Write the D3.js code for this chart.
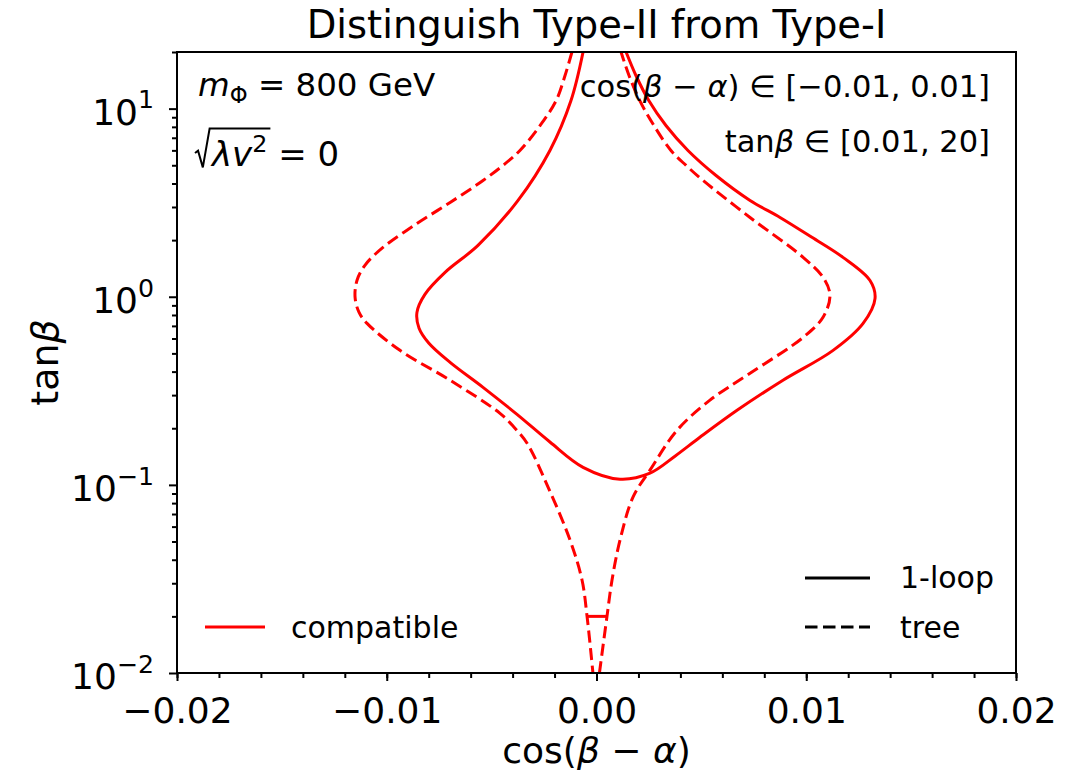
<!DOCTYPE html>
<html>
<head>
<meta charset="utf-8">
<script src="https://cdn.jsdelivr.net/npm/d3@7"></script>
<style>
body { margin: 0; background: #fff; }
text { font-family: "DejaVu Sans"; fill: #000; white-space: pre; }
</style>
</head>
<body>
<script>
// contours: x = cos(beta - alpha), y = tan(beta)
var oneLoopCos = [-0.00064, -0.00122, -0.00222, -0.00374, -0.00565, -0.00722, -0.00818, -0.00856, -0.00846, -0.00799,
                  -0.00698, -0.00541, -0.00379, -0.00222, -0.00064, 0.00112, 0.00255, 0.00374, 0.00493, 0.0067,
                  0.00889, 0.01128, 0.01271, 0.01328, 0.01304, 0.01175, 0.01027, 0.00875, 0.00732, 0.0057,
                  0.00436, 0.00331, 0.0025, 0.00188, 0.00141];
var oneLoopTan = [20, 11.0, 5.99, 3.25, 1.875, 1.348, 1.03, 0.826, 0.68, 0.566,
                  0.448, 0.330, 0.237, 0.169, 0.124, 0.1072, 0.1154, 0.142, 0.179, 0.249,
                  0.360, 0.519, 0.722, 0.981, 1.22, 1.62, 2.07, 2.64, 3.25, 4.41,
                  5.99, 8.13, 11.0, 15.0, 20];

var treeLeftCos = [-0.00117, -0.0015, -0.00193, -0.00269, -0.00365, -0.00446, -0.00541, -0.00698, -0.00856, -0.01018,
                   -0.01104, -0.01142, -0.01151, -0.01132, -0.01094, -0.00937, -0.00698, -0.0046, -0.00393, -0.00331,
                   -0.00231, -0.00126, -0.00069, -0.00045, -0.00017];
var treeLeftTan = [20, 15.0, 11.0, 8.13, 5.99, 4.99, 4.15, 3.17, 2.45, 1.83,
                   1.47, 1.22, 0.993, 0.826, 0.722, 0.519, 0.360, 0.240, 0.2025, 0.1665,
                   0.0973, 0.0508, 0.0312, 0.02, 0.01];

var treeRightCos = [0.00014, 0.0005, 0.00074, 0.00112, 0.00174, 0.00255, 0.00384, 0.00541, 0.00732, 0.00985,
                    0.0108, 0.01113, 0.0108, 0.00985, 0.00732, 0.00508, 0.00427, 0.00355, 0.00274, 0.00207,
                    0.00155, 0.00117];
var treeRightTan = [0.01, 0.02, 0.0312, 0.0508, 0.0861, 0.1197, 0.195, 0.282, 0.392, 0.608,
                    0.778, 1.02, 1.27, 1.62, 2.64, 4.15, 4.99, 5.99, 8.13, 11.0,
                    15.0, 20];

var treeBridgeCos = [-0.00045, 0.0005];
var treeBridgeTan = [0.02, 0.02];

var xTicks = [-0.02, -0.01, 0.0, 0.01, 0.02];
var yTicks = [0.01, 0.1, 1, 10];
var yTickExp = ["\u22122", "\u22121", "0", "1"];

var W = 1084, H = 773;
var mL = 177, mR = 1016, mT = 52, mB = 673;

var svg = d3.select("body").append("svg").attr("width", W).attr("height", H);

var x = d3.scaleLinear().domain([-0.02, 0.02]).range([mL, mR]);
var y = d3.scaleLog().domain([0.01, 20]).range([mB, mT]);

// rich text made of pieces laid out one after another
function rich(parent, px, py, pieces, size, anchor) {
    var g = parent.append("g");
    var cx = 0;
    pieces.forEach(function(p) {
        p.x0 = cx;
        if (p.w) { cx += p.w * size; p.x1 = cx; return; }
        var t = g.append("text")
            .attr("x", cx).attr("y", (p.dy || 0) * size)
            .style("font-size", (p.s || 1) * size + "px")
            .style("font-style", p.i ? "italic" : "normal")
            .text(p.t);
        cx += t.node().getComputedTextLength();
        p.x1 = cx;
    });
    var off = anchor === "end" ? -cx : (anchor === "middle" ? -cx / 2 : 0);
    g.attr("transform", "translate(" + (px + off) + "," + py + ")");
    g.property("w", cx);
    return g;
}

// title
svg.append("text").attr("x", (mL + mR) / 2).attr("y", 38)
    .attr("text-anchor", "middle").style("font-size", "38.5px")
    .text("Distinguish Type-II from Type-I");

// curves
svg.append("clipPath").attr("id", "clip").append("rect")
    .attr("x", mL).attr("y", mT).attr("width", mR - mL).attr("height", mB - mT);

var line = d3.line()
    .x(function(d) { return x(d[0]); })
    .y(function(d) { return y(d[1]); })
    .curve(d3.curveCatmullRom.alpha(0.5));

function pairs(a, b) { return a.map(function(v, i) { return [v, b[i]]; }); }

var curves = svg.append("g").attr("clip-path", "url(#clip)");
curves.append("path").datum(pairs(oneLoopCos, oneLoopTan)).attr("d", line)
    .attr("fill", "none").attr("stroke", "#ff0000").attr("stroke-width", 3);
[pairs(treeLeftCos, treeLeftTan), pairs(treeRightCos, treeRightTan)]
    .forEach(function(d) {
        curves.append("path").datum(d).attr("d", line)
            .attr("fill", "none").attr("stroke", "#ff0000").attr("stroke-width", 3)
            .attr("stroke-dasharray", "12,5.5");
    });
// the short flat piece of the tree contour is a single dash
curves.append("path").datum(pairs(treeBridgeCos, treeBridgeTan)).attr("d", line)
    .attr("fill", "none").attr("stroke", "#ff0000").attr("stroke-width", 3);

// axes
var xAxis = svg.append("g").attr("transform", "translate(0," + mB + ")")
    .call(d3.axisBottom(x).tickValues(xTicks).tickSize(8).tickPadding(8).tickFormat(d3.format(".2f")));
var xMinor = svg.append("g").attr("transform", "translate(0," + mB + ")")
    .call(d3.axisBottom(x).tickValues(d3.range(-0.02, 0.0201, 0.002)).tickSize(5).tickFormat(""));
var yAxis = svg.append("g").attr("transform", "translate(" + mL + ",0)")
    .call(d3.axisLeft(y).tickValues(yTicks).tickSize(8).tickFormat(""));
var yMinor = svg.append("g").attr("transform", "translate(" + mL + ",0)")
    .call(d3.axisLeft(y).tickValues(y.ticks().filter(function(v) {
        return yTicks.indexOf(v) < 0;
    })).tickSize(5).tickFormat(""));

[xAxis, xMinor, yAxis, yMinor].forEach(function(a) {
    a.select(".domain").remove();
    a.selectAll("line").attr("stroke", "#000").attr("stroke-width", 2);
});
xAxis.selectAll("text").style("font-size", "36px").attr("font-family", null).attr("dy", "0.95em");

yTicks.forEach(function(v, i) {
    rich(svg, 154, y(v) + 16, [{t: "10"}, {t: yTickExp[i], s: 0.7, dy: -0.45}], 36, "end");
});

// frame
svg.append("rect").attr("x", mL).attr("y", mT).attr("width", mR - mL).attr("height", mB - mT)
    .attr("fill", "none").attr("stroke", "#000").attr("stroke-width", 2);

// axis labels
rich(svg, (mL + mR) / 2, 763,
    [{t: "cos("}, {t: "\u03b2", i: 1}, {t: " \u2212 "}, {t: "\u03b1", i: 1}, {t: ")"}], 36, "middle");
var yl = rich(svg, 0, 0, [{t: "tan"}, {t: "\u03b2", i: 1}], 38, "start");
yl.attr("transform", "translate(58," + ((mT + mB) / 2 + yl.property("w") / 2) + ") rotate(-90)");

// annotations
rich(svg, 198, 96, [{t: "m", i: 1}, {t: "\u03a6", s: 0.7, dy: 0.2}, {t: " = 800 GeV"}], 32.5, "start");

var s = 34;
var sq = [{w: 0.5}, {t: "\u03bbv", i: 1}, {t: "2", s: 0.7, dy: -0.42}, {t: " = 0"}];
var sg = rich(svg, 195, 166, sq, s, "start");
sg.append("path")
    .attr("d", "M" + (0.0 * s) + "," + (-0.38 * s) + "L" + (0.09 * s) + "," + (-0.45 * s) +
        "L" + (0.23 * s) + "," + (0.04 * s) + "L" + (0.43 * s) + "," + (-1.1 * s) +
        "L" + (sq[2].x1 + 3) + "," + (-1.1 * s))
    .attr("fill", "none").attr("stroke", "#000").attr("stroke-width", 2);

rich(svg, 990, 97, [{t: "cos("}, {t: "\u03b2", i: 1}, {t: " \u2212 "}, {t: "\u03b1", i: 1},
    {t: ") \u2208 [\u22120.01, 0.01]"}], 30.5, "end");
rich(svg, 990, 152, [{t: "tan"}, {t: "\u03b2", i: 1}, {t: " \u2208 [0.01, 20]"}], 30.5, "end");

// legends
svg.append("line").attr("x1", 205).attr("x2", 265).attr("y1", 627).attr("y2", 627)
    .attr("stroke", "#ff0000").attr("stroke-width", 3);
svg.append("text").attr("x", 291).attr("y", 638).style("font-size", "30px").text("compatible");

svg.append("line").attr("x1", 805).attr("x2", 870).attr("y1", 578).attr("y2", 578)
    .attr("stroke", "#000").attr("stroke-width", 3);
svg.append("text").attr("x", 900).attr("y", 588).style("font-size", "30px").text("1-loop");
svg.append("line").attr("x1", 805).attr("x2", 870).attr("y1", 627).attr("y2", 627)
    .attr("stroke", "#000").attr("stroke-width", 3).attr("stroke-dasharray", "12.5,5.5");
svg.append("text").attr("x", 900).attr("y", 638).style("font-size", "30px").text("tree");
</script>
</body>
</html>
